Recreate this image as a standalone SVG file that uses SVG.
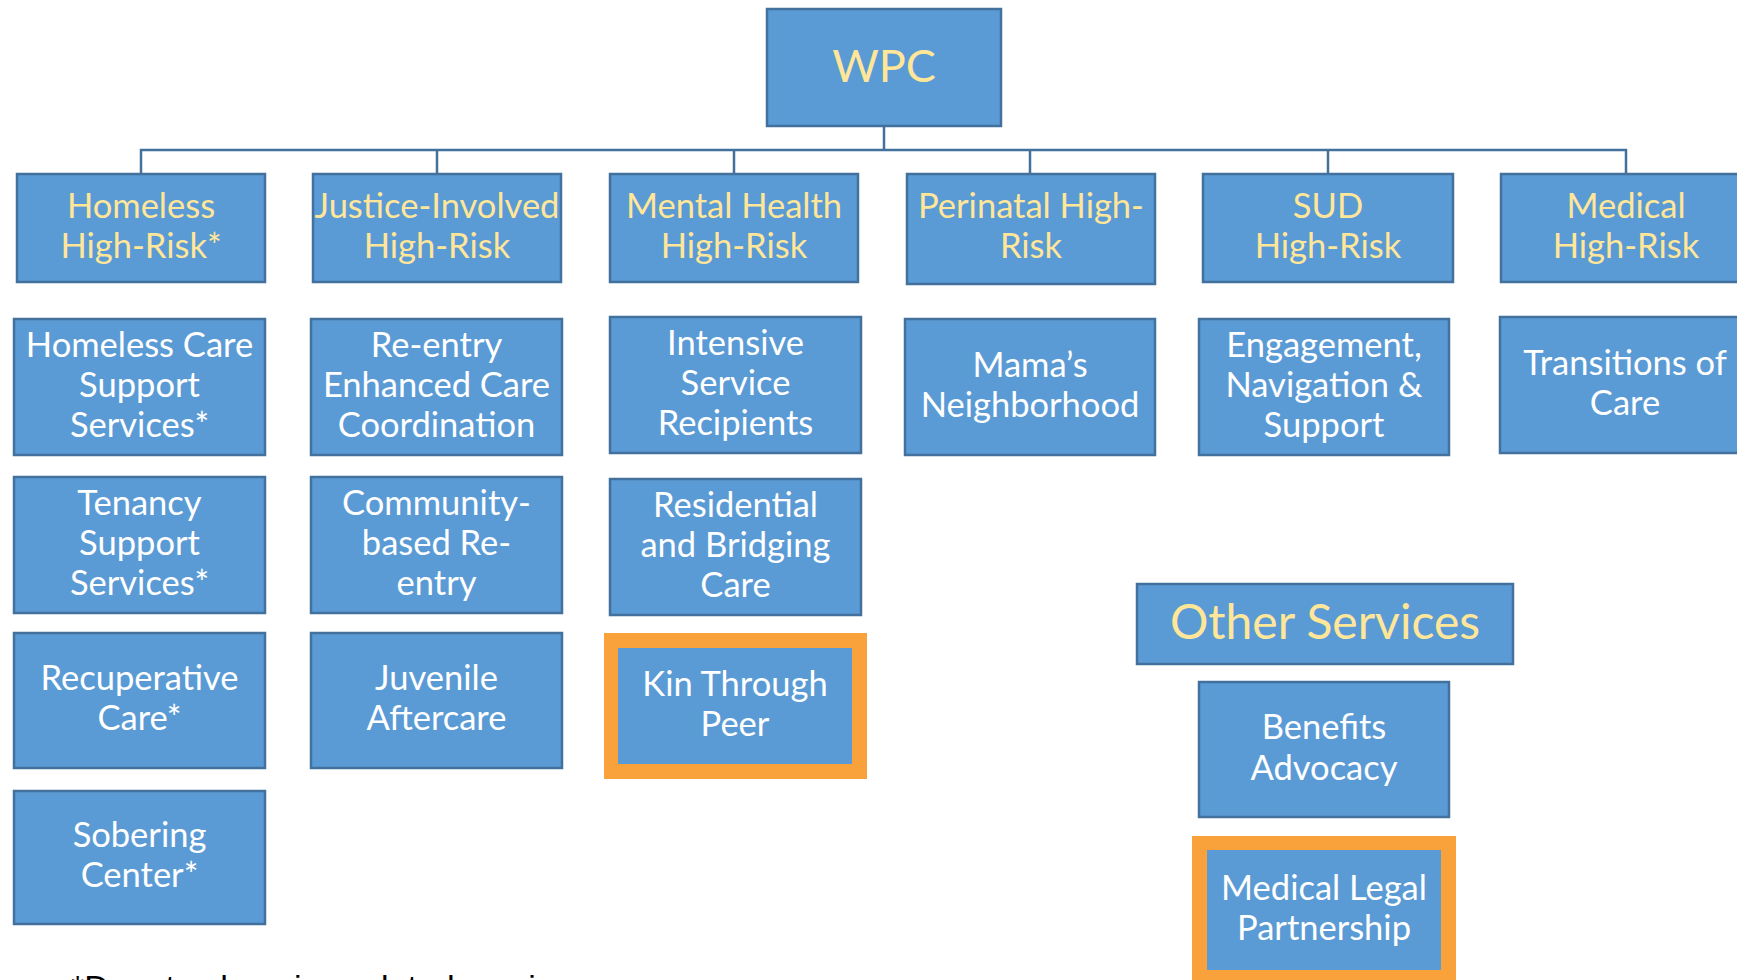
<svg xmlns="http://www.w3.org/2000/svg" width="1737" height="980" viewBox="0 0 1737 980">
<style>
.box{fill:#5b9bd5;stroke:#41719c;stroke-width:2.5}
.hl{fill:#f9a13a}
.inner{fill:#5b9bd5}
.t{font-family:Lato,"Open Sans","Liberation Sans",sans-serif;font-size:34.5px;fill:#ffffff;text-anchor:middle}
.y{fill:#ffe699}
.conn{fill:none;stroke:#41719c;stroke-width:2.5}
.foot{font-family:"Liberation Sans",Arial,sans-serif;font-size:34px;fill:#000000}
</style>
<rect width="1737" height="980" fill="#ffffff"/>
<g id="connectors">
<path class="conn" d="M884 126V150M141 174V150H1626V174M437 150V174M734 150V174M1030 150V174M1328 150V174"/>
</g>
<g id="wpc"><rect class="box" x="767" y="9" width="234" height="117"/><text class="t y" x="884" y="82" style="font-size:45px">WPC</text></g>
<g id="homeless-hr"><rect class="box" x="17" y="174" width="248" height="108"/><text class="t y" x="141" y="218">Homeless</text><text class="t y" x="141" y="258">High-Risk*</text></g>
<g id="justice-hr"><rect class="box" x="313" y="174" width="248" height="108"/><text class="t y" x="437" y="218">Justice-Involved</text><text class="t y" x="437" y="258">High-Risk</text></g>
<g id="mental-hr"><rect class="box" x="610" y="174" width="248" height="108"/><text class="t y" x="734" y="218">Mental Health</text><text class="t y" x="734" y="258">High-Risk</text></g>
<g id="perinatal-hr"><rect class="box" x="907" y="174" width="248" height="110"/><text class="t y" x="1031" y="218">Perinatal High-</text><text class="t y" x="1031" y="258">Risk</text></g>
<g id="sud-hr"><rect class="box" x="1203" y="174" width="250" height="108"/><text class="t y" x="1328" y="218">SUD</text><text class="t y" x="1328" y="258">High-Risk</text></g>
<g id="medical-hr"><rect class="box" x="1501" y="174" width="250" height="108"/><text class="t y" x="1626" y="218">Medical</text><text class="t y" x="1626" y="258">High-Risk</text></g>

<g id="homeless-care"><rect class="box" x="14" y="319" width="251" height="136"/><text class="t" x="139.5" y="357">Homeless Care</text><text class="t" x="139.5" y="397">Support</text><text class="t" x="139.5" y="437">Services*</text></g>
<g id="tenancy"><rect class="box" x="14" y="477" width="251" height="136"/><text class="t" x="139.5" y="515">Tenancy</text><text class="t" x="139.5" y="555">Support</text><text class="t" x="139.5" y="595">Services*</text></g>
<g id="recuperative"><rect class="box" x="14" y="633" width="251" height="135"/><text class="t" x="139.5" y="690">Recuperative</text><text class="t" x="139.5" y="730">Care*</text></g>
<g id="sobering"><rect class="box" x="14" y="791" width="251" height="133"/><text class="t" x="139.5" y="847">Sobering</text><text class="t" x="139.5" y="887">Center*</text></g>

<g id="reentry"><rect class="box" x="311" y="319" width="251" height="136"/><text class="t" x="436.5" y="357">Re-entry</text><text class="t" x="436.5" y="397">Enhanced Care</text><text class="t" x="436.5" y="437">Coordination</text></g>
<g id="community"><rect class="box" x="311" y="477" width="251" height="136"/><text class="t" x="436.5" y="515">Community-</text><text class="t" x="436.5" y="555">based Re-</text><text class="t" x="436.5" y="595">entry</text></g>
<g id="juvenile"><rect class="box" x="311" y="633" width="251" height="135"/><text class="t" x="436.5" y="690">Juvenile</text><text class="t" x="436.5" y="730">Aftercare</text></g>

<g id="intensive"><rect class="box" x="610" y="317" width="251" height="136"/><text class="t" x="735.5" y="355">Intensive</text><text class="t" x="735.5" y="395">Service</text><text class="t" x="735.5" y="435">Recipients</text></g>
<g id="residential"><rect class="box" x="610" y="479" width="251" height="136"/><text class="t" x="735.5" y="517">Residential</text><text class="t" x="735.5" y="557">and Bridging</text><text class="t" x="735.5" y="597">Care</text></g>
<g id="kin"><rect class="hl" x="604" y="633" width="263" height="146"/><rect class="inner" x="618" y="648" width="234" height="116"/><text class="t" x="735" y="696">Kin Through</text><text class="t" x="735" y="736">Peer</text></g>

<g id="mamas"><rect class="box" x="905" y="319" width="250" height="136"/><text class="t" x="1030" y="377">Mama’s</text><text class="t" x="1030" y="417">Neighborhood</text></g>
<g id="engagement"><rect class="box" x="1199" y="319" width="250" height="136"/><text class="t" x="1324" y="357">Engagement,</text><text class="t" x="1324" y="397">Navigation &amp;</text><text class="t" x="1324" y="437">Support</text></g>
<g id="transitions"><rect class="box" x="1500" y="317" width="250" height="136"/><text class="t" x="1625" y="375">Transitions of</text><text class="t" x="1625" y="415">Care</text></g>

<g id="other-services"><rect class="box" x="1137" y="584" width="376" height="80"/><text class="t y" x="1325" y="639" style="font-size:48px">Other Services</text></g>
<g id="benefits"><rect class="box" x="1199" y="682" width="250" height="135"/><text class="t" x="1324" y="739">Benefits</text><text class="t" x="1324" y="780">Advocacy</text></g>
<g id="mlp"><rect class="hl" x="1192" y="836" width="264" height="150"/><rect class="inner" x="1207" y="850" width="234" height="120"/><text class="t" x="1324" y="900">Medical Legal</text><text class="t" x="1324" y="940">Partnership</text></g>

<text class="foot" x="71" y="999">*Denotes housing-related services</text>
</svg>
